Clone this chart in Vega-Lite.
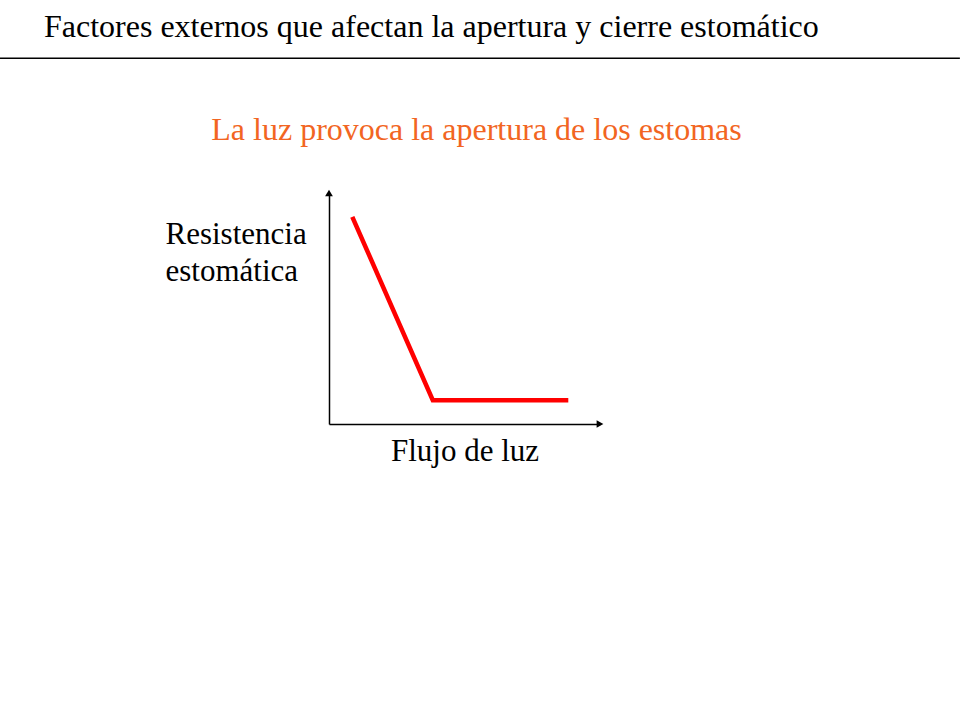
{
  "$schema": "https://vega.github.io/schema/vega-lite/v6.json",
  "autosize": "none",
  "width": 271,
  "height": 231,
  "padding": {"left": 329, "top": 193, "right": 360, "bottom": 296},
  "background": "white",
  "config": {
    "view": {"stroke": null},
    "font": "Liberation Serif"
  },
  "title": {
    "text": "Factores externos que afectan la apertura y cierre estomático",
    "anchor": "start",
    "frame": "group",
    "dx": -285,
    "dy": -4,
    "fontSize": 32,
    "fontWeight": "normal",
    "font": "Liberation Serif",
    "color": "black",
    "offset": 10
  },
  "datasets": {
    "curva": [
      {"flujo": 0.86, "resistencia": 8.97},
      {"flujo": 3.83, "resistencia": 1.03},
      {"flujo": 8.83, "resistencia": 1.03}
    ],
    "flechas": [
      {"eje": "y", "flujo": 0, "resistencia": 10},
      {"eje": "x", "flujo": 10, "resistencia": 0}
    ],
    "linea": [
      {"flujo": -12.14, "flujo_fin": 23.28, "resistencia": 15.83}
    ]
  },
  "resolve": {"axis": {"x": "independent", "y": "independent"}},
  "layer": [
    {
      "data": {"name": "curva"},
      "mark": {"type": "line", "color": "#FF0000", "strokeWidth": 4.5, "strokeCap": "butt", "strokeJoin": "miter"},
      "encoding": {
        "x": {
          "field": "flujo", "type": "quantitative",
          "scale": {"domain": [0, 10], "nice": false},
          "axis": {
            "orient": "bottom",
            "title": "Flujo de luz",
            "domainColor": "black", "domainWidth": 1.5,
            "ticks": false, "labels": false, "grid": false,
            "titleFont": "Liberation Serif", "titleFontSize": 31, "titleFontWeight": "normal", "titleColor": "black",
            "titleBaseline": "alphabetic", "titleY": 36
          }
        },
        "y": {
          "field": "resistencia", "type": "quantitative",
          "scale": {"domain": [0, 10], "nice": false},
          "axis": {
            "title": ["Resistencia", "estomática"],
            "domainColor": "black", "domainWidth": 1.5,
            "ticks": false, "labels": false, "grid": false,
            "titleFont": "Liberation Serif", "titleFontSize": 31, "titleFontWeight": "normal", "titleColor": "black",
            "titleAngle": 0, "titleAlign": "left", "titleBaseline": "alphabetic",
            "titleX": -164, "titleY": 50, "titleLineHeight": 37
          }
        }
      }
    },
    {
      "data": {"name": "flechas"},
      "mark": {"type": "point", "filled": true, "opacity": 1, "size": 60, "color": "black"},
      "encoding": {
        "x": {
          "field": "flujo", "type": "quantitative",
          "axis": {
            "orient": "top",
            "title": "La luz provoca la apertura de los estomas",
            "domain": false, "ticks": false, "labels": false, "grid": false,
            "titleFont": "Liberation Serif", "titleFontSize": 32, "titleFontWeight": "normal", "titleColor": "#F26522",
            "titleBaseline": "alphabetic", "titleY": -54, "titleX": 147
          }
        },
        "y": {"field": "resistencia", "type": "quantitative", "axis": null},
        "shape": {
          "field": "eje", "type": "nominal",
          "scale": {"domain": ["x", "y"], "range": ["triangle-right", "triangle-up"]},
          "legend": null
        },
        "xOffset": {"condition": {"test": "datum.eje == 'x'", "value": -4}, "value": 0},
        "yOffset": {"condition": {"test": "datum.eje == 'y'", "value": 4}, "value": 0}
      }
    },
    {
      "data": {"name": "linea"},
      "mark": {"type": "rule", "color": "black", "strokeWidth": 1.5},
      "encoding": {
        "x": {"field": "flujo", "type": "quantitative", "axis": null},
        "x2": {"field": "flujo_fin"},
        "y": {"field": "resistencia", "type": "quantitative", "axis": null}
      }
    }
  ]
}
